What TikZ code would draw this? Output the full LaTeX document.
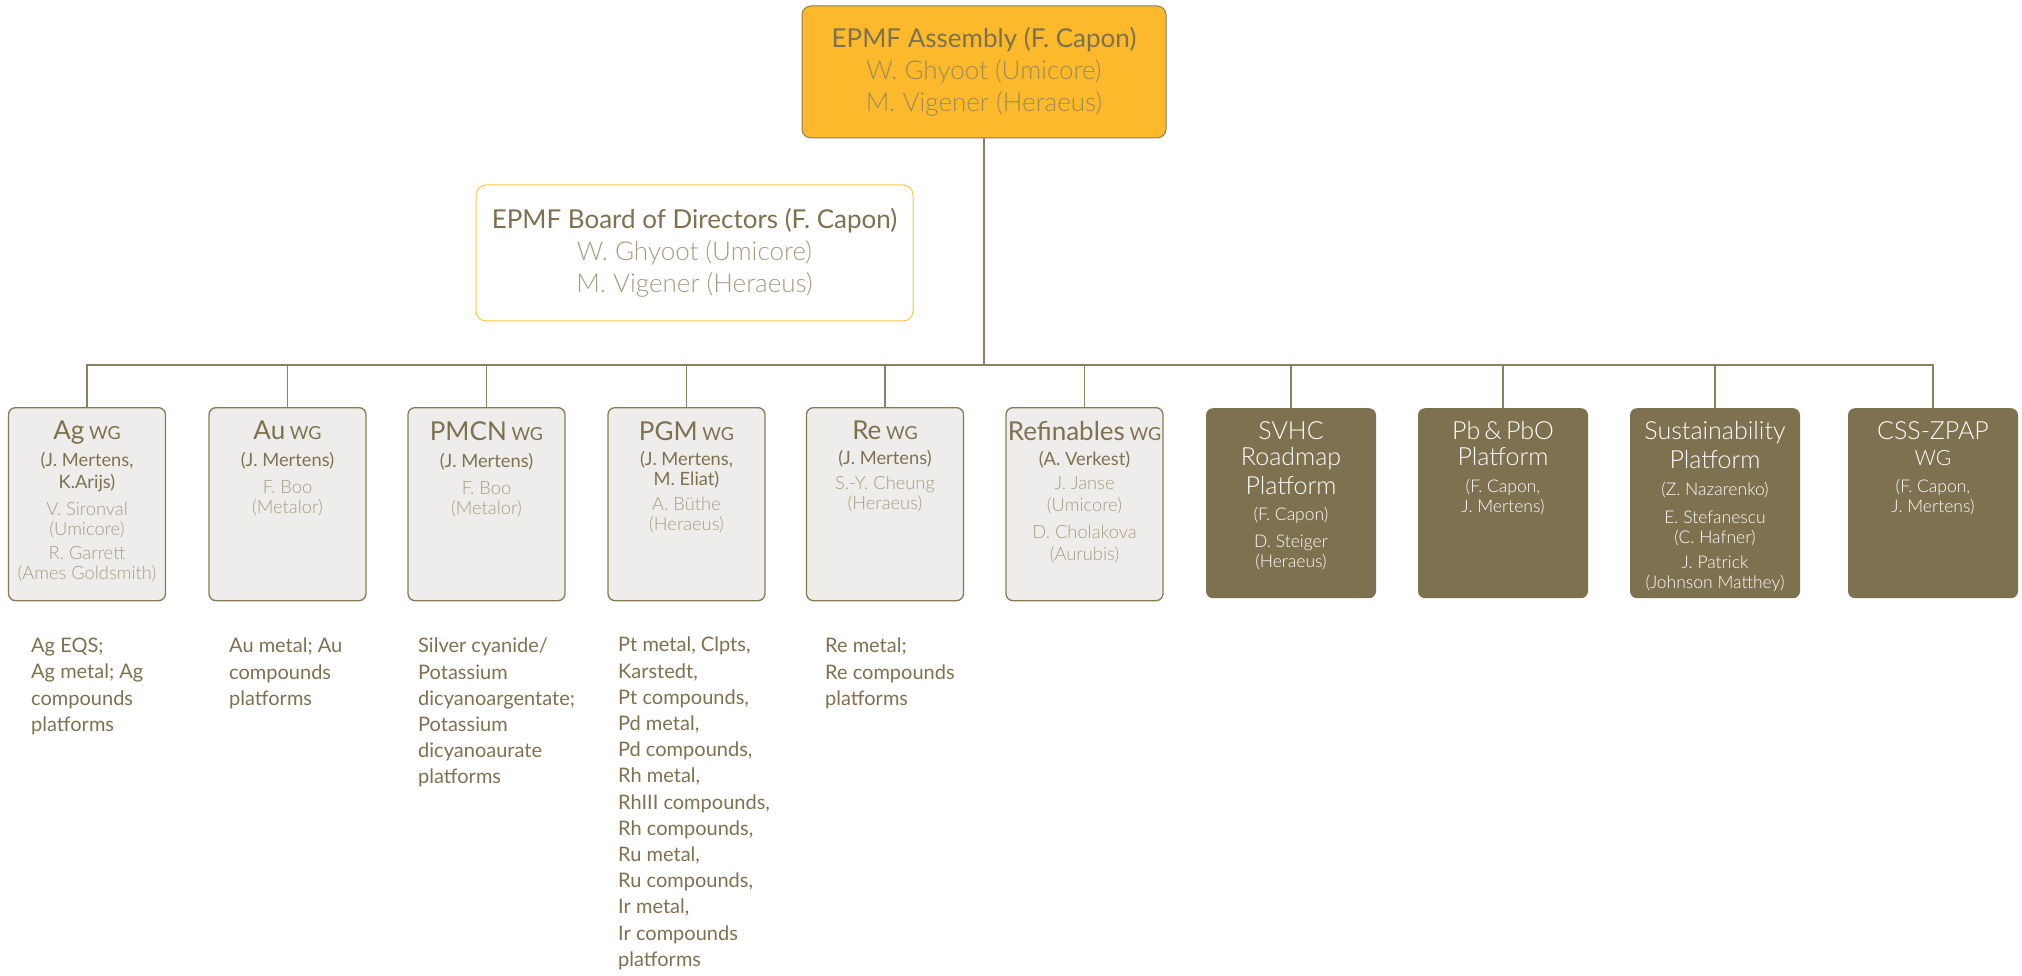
\documentclass[tikz,border=0pt]{standalone}
\usepackage{fontspec}
\setmainfont{Lato}
\newfontfamily\thinfont{Lato Light}
\usetikzlibrary{positioning}

\definecolor{amber}{HTML}{FDB92C}
\definecolor{asmline}{HTML}{8C7E57}
\definecolor{boardline}{HTML}{FBC84E}
\definecolor{headcol}{HTML}{7E7150}
\definecolor{namecol}{HTML}{A69C80}
\definecolor{asmname}{HTML}{9E8B55}
\definecolor{boxfill}{HTML}{EEEDEB}
\definecolor{boxline}{HTML}{877A55}
\definecolor{darkfill}{HTML}{7E7150}
\definecolor{linkcol}{HTML}{8B8060}

\tikzset{
  asmbox/.style={draw=asmline, line width=1pt, fill=amber, rounded corners=9pt,
    minimum width=364pt, minimum height=132pt, align=center, text=headcol,
    font=\fontsize{26}{32}\selectfont},
  boardbox/.style={draw=boardline, line width=1pt, fill=white, rounded corners=10pt,
    minimum width=437pt, minimum height=136pt, align=center, text=headcol,
    font=\fontsize{26}{32}\selectfont},
  wgbox/.style={draw=boxline, line width=1.3pt, fill=boxfill, rounded corners=7pt,
    minimum width=157pt, minimum height=193pt, anchor=north, inner sep=0pt},
  pfbox/.style={fill=darkfill, rounded corners=7pt,
    minimum width=170pt, minimum height=190pt, anchor=north, inner sep=0pt},
  wgtext/.style={align=center, inner sep=0pt, text=headcol,
    font=\fontsize{18.3}{20}\selectfont},
  pftext/.style={wgtext, text=white, font=\thinfont\fontsize{17.5}{20}\selectfont},
  listtext/.style={anchor=north west, align=left, inner sep=0pt, text=headcol,
    font=\fontsize{20}{26.2}\selectfont},
  link/.style={draw=linkcol, line width=1.4pt}
}

% heading of a working group, names of members
\newcommand{\wghead}[1]{{\fontsize{26}{30}\selectfont #1}~{\fontsize{18}{30}\selectfont WG}}
\newcommand{\pfhead}[1]{{\thinfont\fontsize{25}{26}\selectfont #1}}
\newcommand{\who}[1]{{\thinfont\color{namecol}#1}}
\newcommand{\pfwho}[1]{{\thinfont #1}}

\begin{document}
\begin{tikzpicture}[x=1pt, y=-1pt]
    % 1. Canvas and row positions
    \useasboundingbox (0,0) rectangle (2022,976);
    \def\wgtop{407}
    \def\pftop{408}
    \coordinate (hub) at (984,365);

    % 2. Assembly and board
    \node[asmbox] (asm) at (984,72) {EPMF Assembly (F. Capon)\\
        {\thinfont\color{asmname}W. Ghyoot (Umicore)}\\
        {\thinfont\color{asmname}M. Vigener (Heraeus)}};
    \node[boardbox] (board) at (694.5,253) {EPMF Board of Directors (F. Capon)\\
        \who{W. Ghyoot (Umicore)}\\ \who{M. Vigener (Heraeus)}};

    % 3. Working group boxes
    \node[wgbox] (ag)   at (87,\wgtop) {};
    \node[wgbox] (au)   at (287.5,\wgtop) {};
    \node[wgbox] (pmcn) at (486.5,\wgtop) {};
    \node[wgbox] (pgm)  at (686.5,\wgtop) {};
    \node[wgbox] (re)   at (885,\wgtop) {};
    \node[wgbox] (refi) at (1084.5,\wgtop) {};

    % 4. Platform boxes
    \node[pfbox] (svhc) at (1291,\pftop) {};
    \node[pfbox] (pb)   at (1503,\pftop) {};
    \node[pfbox] (sust) at (1715,\pftop) {};
    \node[pfbox] (css)  at (1933,\pftop) {};

    % 5. Texts in the boxes
    \node[wgtext, below=14pt of ag.north] (agtxt) {\wghead{Ag}\\[7pt]
        (J. Mertens,\\[2pt] K.Arijs)\\[7pt]
        \who{V. Sironval}\\ \who{(Umicore)}\\[4pt] \who{R. Garrett}\\ \who{(Ames Goldsmith)}};
    \node[wgtext, below=14pt of au.north] (autxt) {\wghead{Au}\\[7pt]
        (J. Mertens)\\[7pt] \who{F. Boo}\\ \who{(Metalor)}};
    \node[wgtext, below=14pt of pmcn.north] (pmcntxt) {\wghead{PMCN}\\[7pt]
        (J. Mertens)\\[7pt] \who{F. Boo}\\ \who{(Metalor)}};
    \node[wgtext, below=14pt of pgm.north] (pgmtxt) {\wghead{PGM}\\[5pt]
        (J. Mertens,\\ M. Eliat)\\[5pt] \who{A. Büthe}\\ \who{(Heraeus)}};
    \node[wgtext, below=14pt of re.north] (retxt) {\wghead{Re}\\[5pt]
        (J. Mertens)\\[5pt] \who{S.-Y. Cheung}\\ \who{(Heraeus)}};
    \node[wgtext, below=14pt of refi.north] (refitxt) {\wghead{Refinables}\\[5pt]
        (A. Verkest)\\[4pt] \who{J. Janse}\\[2pt] \who{(Umicore)}\\[7pt]
        \who{D. Cholakova}\\[2pt] \who{(Aurubis)}};

    \node[pftext, below=13pt of svhc.north] (svhctxt) {\pfhead{SVHC}\\[6pt]
        \pfhead{Roadmap}\\[6pt] \pfhead{Platform}\\[6pt]
        (F. Capon)\\[7pt] \pfwho{D. Steiger}\\ \pfwho{(Heraeus)}};
    \node[pftext, below=13pt of pb.north] (pbtxt) {\pfhead{Pb\,\&\,PbO}\\[6pt]
        \pfhead{Platform}\\[7pt] (F. Capon,\\ J. Mertens)};
    \node[pftext, below=13pt of sust.north] (susttxt) {\pfhead{Sustainability}\\[6pt]
        \pfhead{Platform}\\[7pt] (Z. Nazarenko)\\[8pt]
        \pfwho{E. Stefanescu}\\ \pfwho{(C. Hafner)}\\[5pt]
        \pfwho{J. Patrick}\\ \pfwho{(Johnson Matthey)}};
    \node[pftext, below=13pt of css.north] (csstxt) {\pfhead{CSS-ZPAP}\\[6pt]
        {\thinfont\fontsize{21}{26}\selectfont WG}\\[7pt] (F. Capon,\\ J. Mertens)};

    % 6. Connectors
    \draw[link] (asm.south) -- (hub);
    \draw[link] (ag.north) -- (ag.north |- hub) -- (css.north |- hub) -- (css.north);
    \draw[link] (au.north) -- (au.north |- hub);
    \draw[link] (pmcn.north) -- (pmcn.north |- hub);
    \draw[link] (pgm.north) -- (pgm.north |- hub);
    \draw[link] (re.north) -- (re.north |- hub);
    \draw[link] (refi.north) -- (refi.north |- hub);
    \draw[link] (svhc.north) -- (svhc.north |- hub);
    \draw[link] (pb.north) -- (pb.north |- hub);
    \draw[link] (sust.north) -- (sust.north |- hub);

    % 7. Platforms covered by each group
    \node[listtext] (aglist) at (31,638) {Ag EQS;\\ Ag metal; Ag\\ compounds\\ platforms};
    \node[listtext] (aulist) at (229,638) {Au metal; Au\\ compounds\\ platforms};
    \node[listtext] (pmcnlist) at (418,638) {Silver cyanide/\\ Potassium\\ dicyanoargentate;\\
        Potassium\\ dicyanoaurate\\ platforms};
    \node[listtext] (pgmlist) at (618,637) {Pt metal, Clpts,\\ Karstedt,\\ Pt compounds,\\
        Pd metal,\\ Pd compounds,\\ Rh metal,\\ RhIII compounds,\\ Rh compounds,\\
        Ru metal,\\ Ru compounds,\\ Ir metal,\\ Ir compounds\\ platforms};
    \node[listtext] (relist) at (825,638) {Re metal;\\ Re compounds\\ platforms};

\end{tikzpicture}
\end{document}
